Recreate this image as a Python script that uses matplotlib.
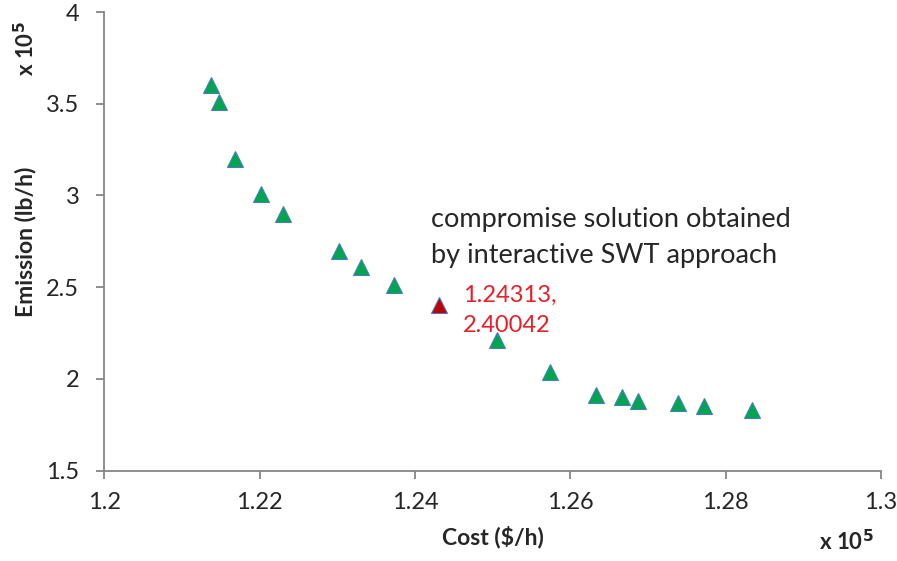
import numpy as np
import matplotlib.pyplot as plt

# Punts del front de Pareto (unitats de x 10^5)
cost = [1.2137, 1.2148, 1.2168, 1.2202, 1.2230, 1.2302, 1.2331, 1.2373,
        1.2505, 1.2574, 1.2633, 1.2666, 1.2687, 1.2739, 1.2772, 1.2834]
emissio = [3.60, 3.51, 3.20, 3.01, 2.90, 2.70, 2.61, 2.51,
           2.21, 2.04, 1.91, 1.90, 1.88, 1.87, 1.85, 1.83]

# Solucio de compromis
cost_comp = 1.24313
emissio_comp = 2.40042

xticks = [1.2, 1.22, 1.24, 1.26, 1.28, 1.3]
yticks = [1.5, 2, 2.5, 3, 3.5, 4]

plt.rcParams['font.family'] = ['Lato', 'DejaVu Sans']

fig = plt.figure(figsize=(8.97, 5.61), dpi=100)
ax = fig.add_axes([0.1163, 0.161, 0.8659, 0.8176])

ax.plot(cost, emissio, '^', ms=12, mfc='#00a550', mec='#4a7ebb', mew=0.8, ls='none', zorder=3)
ax.plot([cost_comp], [emissio_comp], '^', ms=12, mfc='#c00000', mec='#4a7ebb', mew=0.8, zorder=3)

ax.set_xlim(1.2, 1.3)
ax.set_ylim(1.5, 4)
ax.set_xticks(xticks)
ax.set_xticklabels(['1.2', '1.22', '1.24', '1.26', '1.28', '1.3'])
ax.set_yticks(yticks)
ax.set_yticklabels(['1.5', '2', '2.5', '3', '3.5', '4'])

for s in ['top', 'right']:
    ax.spines[s].set_visible(False)
for s in ['left', 'bottom']:
    ax.spines[s].set_color('#868686')
    ax.spines[s].set_linewidth(1.3)
ax.tick_params(colors='#868686', length=6, width=1.3, labelsize=17, labelcolor='#262626')
ax.tick_params(axis='x', pad=9)
ax.tick_params(axis='y', pad=12)

# Etiquetes dels eixos
fig.text(0.5496, 0.022, 'Cost ($/h)', fontsize=16.5, fontweight='bold',
         ha='center', va='bottom', color='#262626')
fig.text(0.944, 0.012, r'x 10$^{\mathbf{5}}$', fontsize=16, fontweight='bold',
         ha='center', va='bottom', color='#262626')
fig.text(0.028, 0.569, 'Emission (lb/h)', fontsize=16.5, fontweight='bold', rotation=90,
         ha='center', va='center', color='#262626')
fig.text(0.028, 0.913, r'x 10$^{\mathbf{5}}$', fontsize=16, fontweight='bold', rotation=90,
         ha='center', va='center', color='#262626')

# Anotacions
ax.text(1.2420, 2.935, 'compromise solution obtained\nby interactive SWT approach',
        fontsize=19.5, color='#262626', ha='left', va='top', linespacing=1.55)
ax.text(1.2462, 2.515, '1.24313,\n2.40042', fontsize=17, color='#e8202a',
        ha='left', va='top', linespacing=1.55)

plt.savefig('out.png', dpi=100)
